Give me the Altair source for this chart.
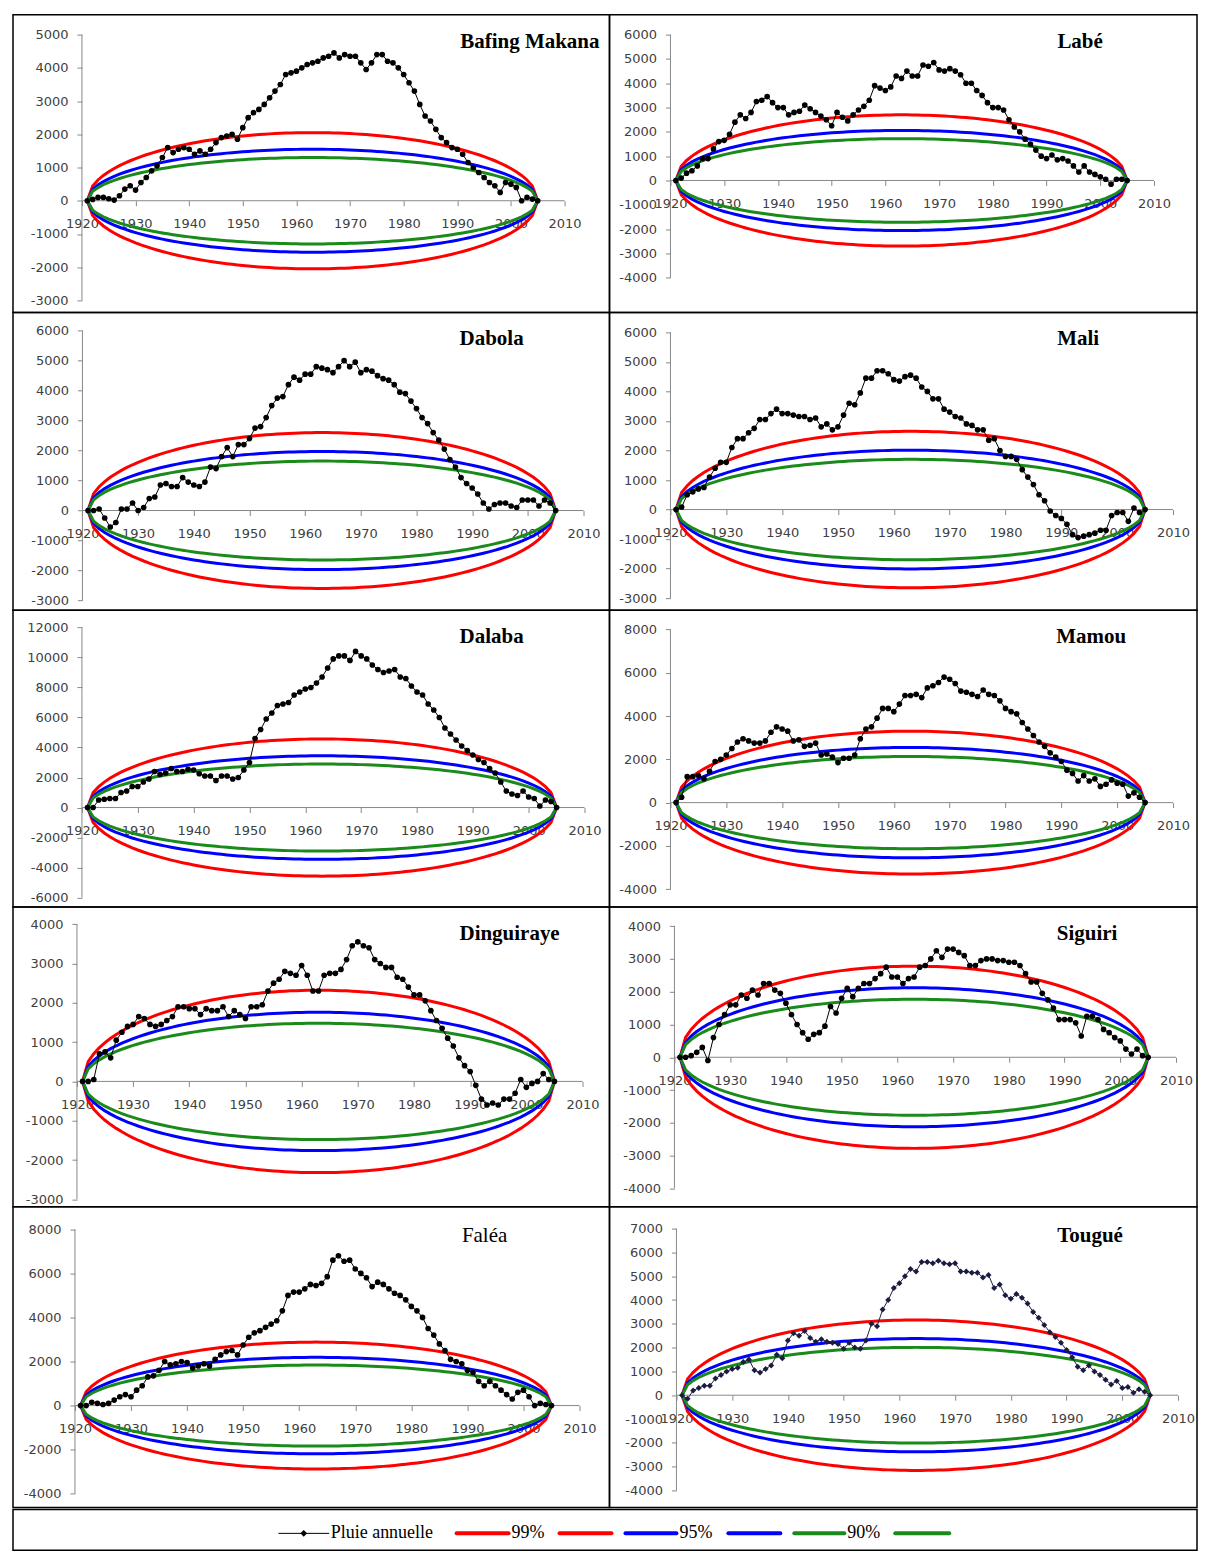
import altair as alt
import pandas as pd
import numpy as np

# ---------------- data ----------------
years = list(range(1921, 2006))

stations = ["Bafing Makana", "Labé", "Dabola", "Mali", "Dalaba",
            "Mamou", "Dinguiraye", "Siguiri", "Faléa", "Tougué"]

bafing = [0, 40, 100, 100, 60, 20, 150, 350, 450, 320,
          550, 700, 900, 1050, 1300, 1600, 1450, 1550, 1600, 1550,
          1400, 1500, 1400, 1550, 1750, 1900, 1950, 2000, 1850, 2200,
          2500, 2650, 2750, 2900, 3100, 3300, 3500, 3800, 3850, 3900,
          4000, 4100, 4150, 4200, 4300, 4350, 4450, 4300, 4400, 4350,
          4350, 4150, 3950, 4150, 4400, 4400, 4200, 4150, 4000, 3800,
          3550, 3300, 2900, 2550, 2400, 2150, 1900, 1750, 1600, 1550,
          1400, 1150, 1000, 850, 700, 550, 450, 250, 550, 500,
          400, 0, 100, 50, 0]
labe = [0, 100, 300, 400, 600, 900, 900, 1300, 1600, 1650,
        1900, 2400, 2700, 2550, 2800, 3250, 3300, 3450, 3200, 3000,
        3000, 2700, 2800, 2850, 3100, 2950, 2800, 2650, 2500, 2250,
        2800, 2600, 2450, 2700, 2900, 3050, 3300, 3900, 3800, 3700,
        3850, 4300, 4200, 4500, 4300, 4300, 4750, 4700, 4850, 4550,
        4500, 4600, 4500, 4350, 4000, 4000, 3700, 3500, 3200, 3000,
        3000, 2900, 2500, 2200, 2000, 1700, 1500, 1250, 1000, 900,
        1050, 850, 900, 800, 600, 350, 600, 350, 250, 150,
        50, -150, 50, 50, 0]
dabola = [0, 0, 50, -250, -550, -400, 50, 50, 250, 0,
          100, 400, 450, 850, 900, 800, 800, 1100, 950, 850,
          800, 950, 1450, 1400, 1800, 2100, 1800, 2200, 2200, 2400,
          2750, 2800, 3100, 3500, 3750, 3800, 4200, 4450, 4350, 4550,
          4550, 4800, 4750, 4700, 4600, 4800, 5000, 4800, 4950, 4600,
          4700, 4650, 4500, 4400, 4350, 4200, 3950, 3900, 3650, 3400,
          3100, 2900, 2600, 2350, 2050, 1700, 1450, 1100, 900, 750,
          550, 250, 50, 200, 250, 250, 150, 100, 350, 350,
          350, 150, 350, 250, 0]
mali = [0, 80, 500, 600, 700, 750, 1100, 1400, 1600, 1600,
        2100, 2400, 2400, 2600, 2750, 3050, 3050, 3250, 3400, 3250,
        3250, 3200, 3150, 3150, 3050, 3100, 2800, 2900, 2700, 2800,
        3200, 3600, 3550, 3950, 4450, 4450, 4700, 4700, 4600, 4400,
        4350, 4500, 4550, 4450, 4150, 4000, 3750, 3750, 3400, 3300,
        3150, 3100, 2900, 2850, 2700, 2700, 2350, 2400, 2000, 1800,
        1800, 1700, 1350, 1100, 850, 500, 300, -50, -200, -300,
        -500, -850, -950, -900, -850, -800, -700, -700, -200, -100,
        -100, -400, 50, -100, 0]
dalaba = [0, 0, 500, 550, 600, 600, 1000, 1100, 1400, 1400,
          1700, 1900, 2400, 2200, 2300, 2600, 2400, 2400, 2550, 2500,
          2250, 2100, 2100, 1800, 2100, 2100, 1900, 2000, 2500, 3000,
          4600, 5200, 5900, 6300, 6800, 6900, 7000, 7500, 7700, 7900,
          8000, 8300, 8700, 9300, 9900, 10100, 10100, 9800, 10400, 10100,
          9900, 9500, 9200, 9000, 9100, 9200, 8700, 8600, 8100, 7700,
          7500, 6900, 6500, 6000, 5300, 4900, 4500, 4100, 3800, 3500,
          3200, 3000, 2600, 2300, 1700, 1100, 900, 800, 1100, 700,
          600, 100, 500, 400, 0]
mamou = [0, 250, 1200, 1200, 1250, 1100, 1450, 1900, 2000, 2200,
         2500, 2800, 2950, 2850, 2750, 2750, 2850, 3250, 3500, 3400,
         3300, 2850, 2900, 2600, 2650, 2750, 2200, 2250, 2100, 1850,
         2050, 2050, 2200, 2950, 3400, 3500, 3900, 4350, 4350, 4200,
         4550, 4950, 4950, 5000, 4850, 5300, 5400, 5550, 5800, 5700,
         5500, 5150, 5100, 5000, 4900, 5200, 5000, 4950, 4700, 4350,
         4200, 4100, 3700, 3400, 3100, 2800, 2600, 2300, 2100, 1900,
         1500, 1350, 1000, 1250, 1000, 1100, 750, 850, 1050, 900,
         850, 300, 450, 250, 0]
dinguiraye = [0, 0, 50, 700, 750, 600, 1050, 1250, 1400, 1450,
              1650, 1600, 1450, 1400, 1450, 1550, 1650, 1900, 1900, 1850,
              1850, 1700, 1850, 1800, 1800, 1900, 1650, 1800, 1700, 1600,
              1900, 1900, 1950, 2300, 2500, 2600, 2800, 2750, 2700, 2950,
              2700, 2300, 2300, 2700, 2750, 2750, 2850, 3100, 3450, 3550,
              3450, 3400, 3100, 3000, 2900, 2900, 2650, 2600, 2400, 2200,
              2200, 2050, 1800, 1550, 1350, 1100, 900, 600, 400, 250,
              -100, -450, -600, -550, -600, -450, -450, -300, 50, -150,
              -50, 0, 200, 50, 0]
siguiri = [0, 0, 50, 150, 300, -100, 600, 1000, 1300, 1600,
           1600, 1900, 1800, 2050, 1900, 2250, 2250, 2050, 1950, 1650,
           1300, 1000, 750, 550, 700, 750, 950, 1550, 1350, 1800,
           2100, 1850, 2100, 2250, 2250, 2400, 2550, 2750, 2450, 2450,
           2250, 2400, 2450, 2750, 2800, 3000, 3250, 3050, 3300, 3300,
           3200, 3100, 2800, 2800, 2950, 3000, 3000, 2950, 2950, 2900,
           2900, 2800, 2550, 2300, 2300, 1950, 1750, 1500, 1150, 1150,
           1150, 1050, 650, 1250, 1250, 1150, 850, 750, 600, 500,
           250, 100, 250, 50, 0]
falea = [0, 0, 150, 100, 50, 100, 250, 400, 500, 400,
         700, 900, 1300, 1350, 1600, 2000, 1850, 1900, 2000, 1950,
         1700, 1800, 1900, 1800, 2100, 2300, 2450, 2500, 2300, 2750,
         3100, 3300, 3400, 3550, 3700, 3850, 4300, 5000, 5150, 5150,
         5300, 5500, 5450, 5550, 5850, 6600, 6800, 6550, 6600, 6200,
         6000, 5800, 5400, 5600, 5500, 5300, 5100, 5000, 4800, 4500,
         4300, 4000, 3500, 3200, 2800, 2500, 2100, 2000, 1900, 1600,
         1500, 1100, 900, 1100, 900, 700, 500, 300, 600, 700,
         400, 0, 100, 50, 0]
tougue = [0, -150, 200, 300, 400, 400, 700, 850, 1000, 1100,
          1150, 1400, 1500, 1050, 950, 1100, 1250, 1700, 1550, 2300,
          2600, 2500, 2700, 2400, 2250, 2350, 2250, 2200, 2150, 1950,
          2200, 2000, 1950, 2300, 3000, 2900, 3600, 4000, 4500, 4700,
          5000, 5300, 5200, 5600, 5600, 5550, 5650, 5550, 5500, 5550,
          5200, 5200, 5150, 5150, 4950, 5050, 4500, 4650, 4200, 4050,
          4250, 4100, 3850, 3500, 3250, 2950, 2650, 2450, 2200, 1900,
          1600, 1200, 1050, 1250, 1000, 850, 650, 450, 600, 300,
          350, 100, 250, 150, 0]

rain = [bafing, labe, dabola, mali, dalaba, mamou, dinguiraye, siguiri, falea, tougue]

# ellipse half-heights (99 %, 95 %, 90 %)
ell99 = [2050, 2700, 2600, 2650, 4570, 3300, 2320, 2780, 2880, 3160]
ell95 = [1550, 2060, 1970, 2010, 3450, 2550, 1760, 2120, 2190, 2380]
ell90 = [1300, 1720, 1650, 1700, 2900, 2130, 1480, 1770, 1840, 2010]

# y tick labels
ytick_min = [-3000, -4000, -3000, -3000, -6000, -4000, -3000, -4000, -4000, -4000]
ytick_max = [5000, 6000, 6000, 6000, 12000, 8000, 4000, 4000, 8000, 7000]
ytick_step = [1000, 1000, 1000, 1000, 2000, 2000, 1000, 1000, 2000, 1000]
xtick_labels = list(range(1920, 2011, 10))

title_bold = [True, True, True, True, True, True, True, True, False, True]

legend_labels = ["Pluie annuelle", "99%", "95%", "90%"]

# ---------------- layout (pixels, cell relative) ----------------
col_w = [597, 588]
row_h = [298, 298, 297, 300, 301]
legend_h = 41
x1920_px = [69, 61, 69.5, 61, 69, 61, 64, 65, 62, 67]
x2010_px = [552, 545, 571, 564, 572, 564, 570, 567, 567, 569]
ytop_px = [20, 20, 18.3, 20, 17.3, 19.3, 17.3, 19.3, 22.7, 22]
ybot_px = [286, 263.3, 288.3, 286, 287.7, 279.3, 292.7, 281.7, 287.3, 284]
title_x = [587, 471, 479, 469, 479, 482, 497, 478, 472, 481]
title_align = ["right"] + ["center"] * 9
title_y = [33, 33, 33, 33, 33, 33, 33, 33, 35, 35]

RED, BLUE, GREEN = "#ff0000", "#0000ff", "#1a8a1a"
AXC = "#888888"
LBL = "#404040"
LFONT = "DejaVu Sans"


def panel(i, W, H):
    ax_px, x2_px = x1920_px[i], x2010_px[i]
    yt, yb = ytop_px[i], ybot_px[i]
    tmin, tmax, tstep = ytick_min[i], ytick_max[i], ytick_step[i]
    ppy = (x2_px - ax_px) / 90.0
    xdom = [1920 - ax_px / ppy, 2010 + (W - x2_px) / ppy]
    vpp = (tmax - tmin) / (yb - yt)
    ydom = [tmin - (H - yb) * vpp, tmax + yt * vpp]
    y0 = yt + tmax / vpp

    xs = alt.Scale(domain=xdom, nice=False, zero=False)
    ys = alt.Scale(domain=ydom, nice=False, zero=False)
    xax = alt.Axis(values=xtick_labels, orient="bottom", offset=-(H - y0),
                   domain=False, grid=False, tickSize=5, tickColor=AXC,
                   labelPadding=12, labelFont=LFONT, labelFontSize=13,
                   labelColor=LBL, labelFlush=False, labelOverlap=False,
                   labelExpr="datum.value + ''", title=None)
    yax = alt.Axis(values=list(range(tmin, tmax + 1, tstep)), orient="left",
                   offset=-ax_px, domain=False, grid=False, tickSize=5,
                   tickColor=AXC, labelPadding=9, labelFont=LFONT,
                   labelFontSize=13, labelColor=LBL, labelOverlap=False,
                   labelExpr="datum.value + ''", title=None)
    X = lambda f: alt.X(f, type="quantitative", scale=xs, axis=xax)
    Y = lambda f: alt.Y(f, type="quantitative", scale=ys, axis=yax)

    yaxis_line = alt.Chart(pd.DataFrame({"x": [1920], "y": [tmin], "y2": [tmax]})).mark_rule(
        color=AXC, strokeWidth=1).encode(x=X("x"), y=Y("y"), y2="y2")
    xaxis_line = alt.Chart(pd.DataFrame({"x": [1920], "x2": [2010], "y": [0]})).mark_rule(
        color=AXC, strokeWidth=1).encode(x=X("x"), x2="x2", y=Y("y"))

    yr = np.array(years, dtype=float)
    c = (yr[0] + yr[-1]) / 2
    h = (yr[-1] - yr[0]) / 2
    frac = np.sqrt(np.clip(1 - ((yr - c) / h) ** 2, 0, None))

    layers = [yaxis_line, xaxis_line]
    for amp, col in [(ell99[i], RED), (ell95[i], BLUE), (ell90[i], GREEN)]:
        df = pd.concat([
            pd.DataFrame({"x": yr, "y": amp * frac, "side": "up"}),
            pd.DataFrame({"x": yr, "y": -amp * frac, "side": "down"}),
        ])
        layers.append(alt.Chart(df).mark_line(color=col, strokeWidth=3).encode(
            x=X("x"), y=Y("y"), detail="side:N"))

    ddf = pd.DataFrame({"x": years, "y": rain[i]})
    is_tougue = stations[i] == "Tougué"
    pcol = "#1c1c40" if is_tougue else "black"
    layers.append(alt.Chart(ddf).mark_line(color=pcol, strokeWidth=1).encode(x=X("x"), y=Y("y")))
    layers.append(alt.Chart(ddf).mark_point(
        filled=True, opacity=1, color=pcol,
        shape="diamond" if is_tougue else "circle",
        size=36 if is_tougue else 32).encode(x=X("x"), y=Y("y")))

    tdf = pd.DataFrame({"name": [stations[i]]})
    layers.append(alt.Chart(tdf).mark_text(
        align=title_align[i], baseline="alphabetic", font="Liberation Serif",
        fontSize=21, fontWeight="bold" if title_bold[i] else "normal",
        color="black").encode(x=alt.value(title_x[i]), y=alt.value(title_y[i]),
                               text="name:N"))
    return alt.layer(*layers).properties(width=W, height=H)


panels = [panel(i, col_w[i % 2], row_h[i // 2]) for i in range(10)]
grid = alt.concat(*panels, columns=2, spacing=0, bounds="flush")

# ---------------- legend cell ----------------
LW = col_w[0] + col_w[1]
seg_x = [266, 444, 547, 613, 716, 782, 883]
seg_x2 = [316, 496, 599, 664, 768, 832, 937]
seg_col = ["black", RED, RED, BLUE, BLUE, GREEN, GREEN]
seg_w = [1, 4, 4, 4, 4, 4, 4]
lab_x = [318, 499, 667, 835]
ly = 24
lscale = alt.Scale(domain=[0, LW], nice=False, zero=False)
seg_df = pd.DataFrame({"x": seg_x, "x2": seg_x2, "c": seg_col, "w": seg_w})
leg_lines = alt.Chart(seg_df).mark_rule(strokeCap="round").encode(
    x=alt.X("x:Q", scale=lscale, axis=None), x2="x2:Q", y=alt.value(ly),
    color=alt.Color("c:N", scale=None), strokeWidth=alt.StrokeWidth("w:Q", scale=None))
mk_df = pd.DataFrame({"x": [(seg_x[0] + seg_x2[0]) / 2]})
leg_mark = alt.Chart(mk_df).mark_point(shape="diamond", filled=True, color="black",
                                       opacity=1, size=45).encode(
    x=alt.X("x:Q", scale=lscale, axis=None), y=alt.value(ly))
lab_df = pd.DataFrame({"x": lab_x, "t": legend_labels})
leg_text = alt.Chart(lab_df).mark_text(align="left", baseline="middle",
                                       font="Liberation Serif", fontSize=18,
                                       color="black").encode(
    x=alt.X("x:Q", scale=lscale, axis=None), y=alt.value(ly), text="t:N")
legend = alt.layer(leg_lines, leg_mark, leg_text).properties(width=LW, height=legend_h)

chart = alt.vconcat(grid, legend, spacing=0).properties(
    padding={"left": 4, "top": 5, "right": 0, "bottom": 0},
    background="white",
).configure_view(stroke="black", strokeWidth=1.5)

chart.save("out.html", embed_options={"renderer": "svg", "actions": False})
